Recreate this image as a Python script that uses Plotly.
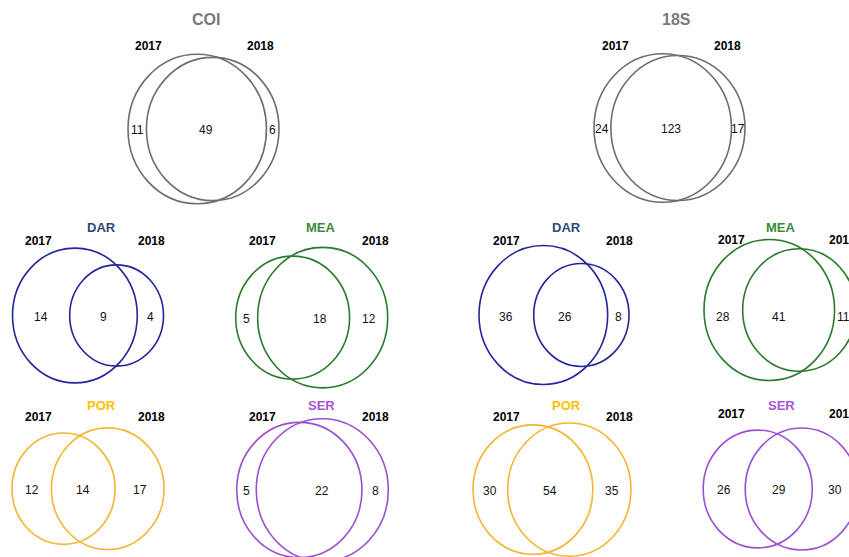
import math
import plotly.graph_objects as go

# ---- data -------------------------------------------------------------
# Each Venn: counts unique to 2017, shared, unique to 2018
panel_names = ["COI", "18S", "DAR", "MEA", "DAR", "MEA", "POR", "SER", "POR", "SER"]
only_2017 = [11, 24, 14, 5, 36, 28, 12, 5, 30, 26]
shared = [49, 123, 9, 18, 26, 41, 14, 22, 54, 29]
only_2018 = [6, 17, 4, 12, 8, 11, 17, 8, 35, 30]
year_labels = ["2017", "2018"]

# ---- styling / placement ---------------------------------------------
site_style = {
    "COI": ("#7a7a7a", "#6e6e6e"),
    "18S": ("#7a7a7a", "#6e6e6e"),
    "DAR": ("#2e4a78", "#25259a"),
    "MEA": ("#3a8a3a", "#2b7a2b"),
    "POR": ("#ffc000", "#f4b533"),
    "SER": ("#a855d8", "#9c4fd0"),
}
# (venn centre x, venn centre y, title x, title y, year-left x, year-right x, year y, title size)
placement = [
    (203.5, 129, 206, 19, 148, 260, 46, 16),
    (669.5, 128, 676, 19, 615, 727, 46, 16),
    (88, 315.5, 101, 227, 38, 151, 241, 13),
    (311.7, 317.6, 321, 227, 262, 375, 241, 13),
    (554, 315, 566, 227, 506, 619, 241, 13),
    (780, 310, 781, 227, 731, 842, 240, 13),
    (88, 488.7, 101, 405, 38, 151, 417, 13),
    (312.5, 490, 321, 405, 262, 375, 417, 13),
    (552, 489.6, 566, 405, 506, 619, 417, 13),
    (780.7, 489, 781, 405, 731, 842, 414, 13),
]
diagram_width = [151, 151, 151, 152, 150, 152, 152, 151.6, 158, 155]
# small hand adjustments of the count labels: (x of shared label, x of 2018-only label, y)
label_nudge = {3: (16, 0, 0), 4: (-6, 0, 1), 5: (-10, -2, 6), 7: (13, 0, 0)}
y_stretch = 1.08
FONT = "Liberation Sans, Arial, sans-serif"


def lens_area(r1, r2, d):
    if d >= r1 + r2:
        return 0.0
    if d <= abs(r1 - r2):
        return math.pi * min(r1, r2) ** 2
    a1 = r1 ** 2 * math.acos((d * d + r1 * r1 - r2 * r2) / (2 * d * r1))
    a2 = r2 ** 2 * math.acos((d * d + r2 * r2 - r1 * r1) / (2 * d * r2))
    tri = 0.5 * math.sqrt((-d + r1 + r2) * (d + r1 - r2) * (d - r1 + r2) * (d + r1 + r2))
    return a1 + a2 - tri


def centre_distance(r1, r2, target):
    lo, hi = abs(r1 - r2), r1 + r2
    for _ in range(80):
        mid = (lo + hi) / 2
        if lens_area(r1, r2, mid) > target:
            lo = mid
        else:
            hi = mid
    return (lo + hi) / 2


fig = go.Figure()
shapes, annotations = [], []

for i, name in enumerate(panel_names):
    a, ab, b = only_2017[i], shared[i], only_2018[i]
    r1 = math.sqrt((a + ab) / math.pi)
    r2 = math.sqrt((b + ab) / math.pi)
    d = centre_distance(r1, r2, ab)
    left = min(-r1, d - r2)
    right = max(r1, d + r2)
    cx, cy, tx, ty, y1x, y2x, yy, tsize = placement[i]
    s = diagram_width[i] / (right - left)
    x_off = cx - s * (left + right) / 2
    c1x, c2x = x_off, x_off + s * d
    R1, R2 = s * r1, s * r2
    title_col, line_col = site_style[name]

    for ccx, R in ((c1x, R1), (c2x, R2)):
        shapes.append(dict(
            type="circle", xref="x", yref="y",
            x0=ccx - R, x1=ccx + R, y0=cy - R * y_stretch, y1=cy + R * y_stretch,
            line=dict(color=line_col, width=1.6), fillcolor="rgba(0,0,0,0)",
        ))

    nx_shared, nx_right, ny = label_nudge.get(i, (0, 0, 0))
    l1, r1e = c1x - R1, c1x + R1
    l2, r2e = c2x - R2, c2x + R2
    label_x = [(l1 + l2) / 2, (l2 + r1e) / 2 + nx_shared, (r1e + r2e) / 2 + nx_right]
    for lx, val in zip(label_x, (a, ab, b)):
        annotations.append(dict(
            x=lx, y=cy + 1 + ny, xref="x", yref="y", text=str(val), showarrow=False,
            font=dict(family=FONT, size=12, color="#111111"),
        ))

    annotations.append(dict(
        x=tx, y=ty, xref="x", yref="y", text=f"<b>{name}</b>", showarrow=False,
        font=dict(family=FONT, size=tsize, color=title_col),
    ))
    for lx, yr in zip((y1x, y2x), year_labels):
        annotations.append(dict(
            x=lx, y=yy, xref="x", yref="y", text=f"<b>{yr}</b>", showarrow=False,
            font=dict(family=FONT, size=12, color="#000000"),
        ))

fig.update_layout(
    width=849, height=557,
    margin=dict(l=0, r=0, t=0, b=0),
    paper_bgcolor="white", plot_bgcolor="white",
    xaxis=dict(range=[0, 849], visible=False, fixedrange=True),
    yaxis=dict(range=[557, 0], visible=False, fixedrange=True),
    shapes=shapes, annotations=annotations, showlegend=False,
)

fig.write_html("out.html")
